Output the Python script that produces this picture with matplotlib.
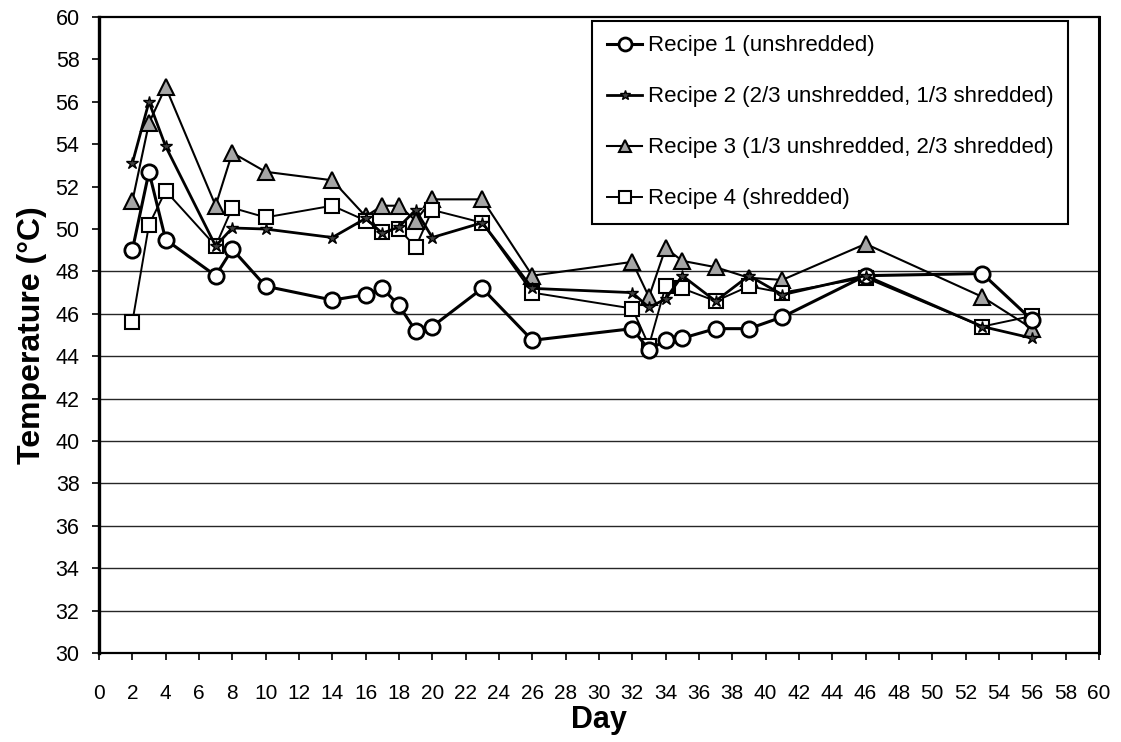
import numpy as np
import matplotlib.pyplot as plt

plt.rcParams['font.family'] = ['Liberation Sans', 'DejaVu Sans']

# dni pomiaru
day = [2, 3, 4, 7, 8, 10, 14, 16, 17, 18, 19, 20, 23, 26, 32, 33, 34, 35, 37, 39, 41, 46, 53, 56]

# temperatury
recipe1 = [49.0, 52.7, 49.5, 47.8, 49.05, 47.3, 46.65, 46.9, 47.2, 46.4, 45.2, 45.4,
           47.2, 44.75, 45.3, 44.3, 44.75, 44.85, 45.3, 45.3, 45.85, 47.8, 47.9, 45.7]
recipe2 = [53.1, 56.0, 53.9, 49.2, 50.05, 50.0, 49.6, 50.5, 49.8, 50.1, 50.9, 49.6,
           50.3, 47.2, 47.0, 46.3, 46.7, 47.8, 46.6, 47.8, 46.9, 47.8, 45.4, 44.85]
recipe3 = [51.3, 55.0, 56.7, 51.1, 53.6, 52.7, 52.3, 50.6, 51.1, 51.1, 50.4, 51.4,
           51.4, 47.8, 48.45, 46.8, 49.1, 48.5, 48.2, 47.7, 47.6, 49.3, 46.8, 45.3]
recipe4 = [45.6, 50.2, 51.8, 49.2, 51.0, 50.55, 51.1, 50.4, 49.85, 50.0, 49.15, 50.9,
           50.3, 47.0, 46.25, 44.5, 47.3, 47.2, 46.6, 47.3, 47.0, 47.7, 45.4, 45.9]

labels = ['Recipe 1 (unshredded)',
          'Recipe 2 (2/3 unshredded, 1/3 shredded)',
          'Recipe 3 (1/3 unshredded, 2/3 shredded)',
          'Recipe 4 (shredded)']

fig = plt.figure(figsize=(11.21, 7.42), dpi=100)
ax = fig.add_axes([0.0883, 0.120, 0.892, 0.857])

# linie siatki tylko ponizej 48 (jak na skanie)
for yv in range(30, 49, 2):
    ax.axhline(yv, color='0.15', lw=1.0, zorder=0)

ax.plot(day, recipe1, color='black', lw=2.2, marker='o', ms=11, mfc='white',
        mec='black', mew=2.0, label=labels[0], zorder=3)
ax.plot(day, recipe2, color='black', lw=2.0, marker='*', ms=9, mfc='0.25',
        mec='black', mew=1.0, label=labels[1], zorder=4)
ax.plot(day, recipe3, color='black', lw=1.5, marker='^', ms=11, mfc='0.65',
        mec='black', mew=1.5, label=labels[2], zorder=2)
ax.plot(day, recipe4, color='black', lw=1.4, marker='s', ms=10, mfc='white',
        mec='black', mew=1.5, label=labels[3], zorder=2)

ax.set_xlim(0, 60)
ax.set_ylim(30, 60)
ax.set_xticks(np.arange(0, 61, 2))
ax.set_yticks(np.arange(30, 61, 2))
ax.tick_params(axis='x', labelsize=15, length=5, width=1.2, direction='out', pad=17)
ax.tick_params(axis='y', labelsize=15.5, length=5, width=1.2, direction='out', pad=9)

for s in ax.spines.values():
    s.set_linewidth(1.6)
ax.spines['left'].set_linewidth(2.4)
ax.spines['right'].set_linewidth(2.2)

ax.set_xlabel('Day', fontsize=22, fontweight='bold', labelpad=2)
ax.set_ylabel('Temperature (°C)', fontsize=23, fontweight='bold', labelpad=6)

leg = ax.legend(loc='upper right', bbox_to_anchor=(0.969, 0.994), fontsize=16,
                frameon=True, fancybox=False, edgecolor='black', framealpha=1,
                handlelength=1.6, handletextpad=0.25, labelspacing=1.35,
                borderpad=0.65, borderaxespad=0, markerscale=0.85)
leg.get_frame().set_linewidth(1.5)

fig.savefig('out.png', dpi=100)
